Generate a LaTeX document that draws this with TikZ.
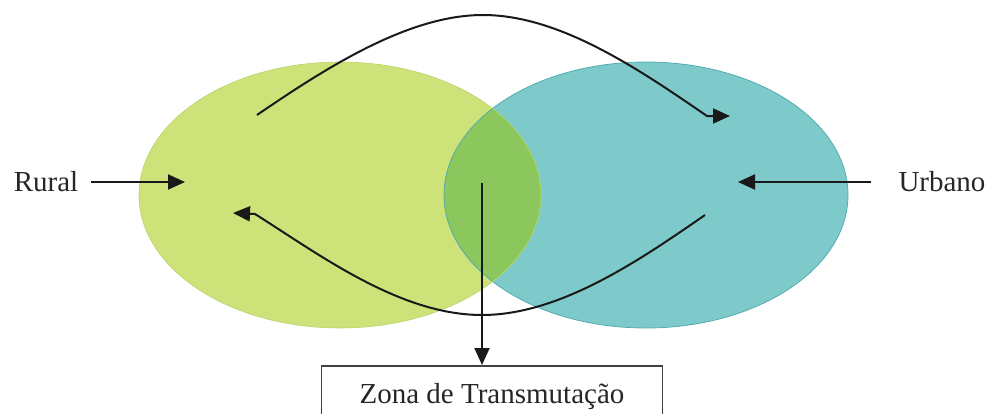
\documentclass[tikz,border=0pt]{standalone}
\usepackage{fontspec}
\setmainfont{Liberation Serif}
\usepackage{xcolor}
\usetikzlibrary{arrows.meta, positioning, calc}
\definecolor{ruralgreen}{RGB}{205,227,122}
\definecolor{ruraledge}{RGB}{185,212,105}
\definecolor{urbanteal}{RGB}{126,202,203}
\definecolor{urbanedge}{RGB}{85,172,176}
\definecolor{zonegreen}{RGB}{139,199,92}
\tikzstyle{arrow} = [line width=2pt, black!90, -{Triangle[length=17pt,width=15pt]}]
\tikzstyle{place} = [font=\fontsize{29}{34}\selectfont, inner sep=0pt, text=black!85]
\tikzstyle{zonebox} = [draw=black!75, line width=1.5pt, minimum width=341pt, text height=20pt, text depth=6pt, inner ysep=18pt, anchor=north, font=\fontsize{29}{34}\selectfont, text=black!85]

\begin{document}
\begin{tikzpicture}[x=1pt, y=-1pt]
  \useasboundingbox (0,0) rectangle (989,413);
  % the two zones and their overlap
  \fill[urbanteal] (646,195) ellipse [x radius=202, y radius=133];
  \fill[ruralgreen] (340,195) ellipse [x radius=201, y radius=133];
  \begin{scope}
    \clip (340,195) ellipse [x radius=201, y radius=133];
    \fill[zonegreen] (646,195) ellipse [x radius=202, y radius=133];
  \end{scope}
  \draw[urbanedge, line width=0.8pt] (646,195) ellipse [x radius=202, y radius=133];
  \draw[ruraledge, line width=0.6pt] (340,195) ellipse [x radius=201, y radius=133];

  % labels
  \node[place] (rural) at (46,182) {Rural};
  \node[place] (urbano) at (942,182) {Urbano};
  \node[zonebox] (zona) at (492,365) {Zona de Transmuta\c{c}\~ao};

  % connector ends
  \coordinate (ruralin) at (185,182);
  \coordinate (urbanoin) at (738,182);
  \coordinate (ruralout) at (257,115);
  \coordinate (urbanoout) at (705,215);
  \coordinate (toptip) at (730,116);
  \coordinate (bottip) at (233,213);
  \coordinate (meet) at (482,183);

  % flows
  \draw[arrow] ([xshift=13pt]rural.east) -- (ruralin);
  \draw[arrow] ([xshift=-27pt]urbano.west) -- (urbanoin);
  \draw[arrow] (ruralout) .. controls (330,65) and (410,15) .. (483,15)
    .. controls (560,15) and (640,70) .. (707,116) -- (toptip);
  \draw[arrow] (urbanoout) .. controls (640,260) and (560,315) .. (482,315)
    .. controls (400,315) and (320,255) .. (255,214) -- (bottip);
  \draw[arrow] (meet) -- (zona.north -| meet);
\end{tikzpicture}
\end{document}
